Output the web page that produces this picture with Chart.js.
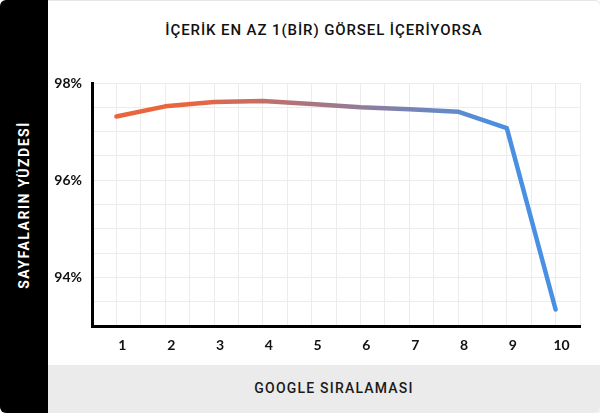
<!DOCTYPE html>
<html lang="tr">
<head>
<meta charset="utf-8">
<script src="https://cdn.jsdelivr.net/npm/chart.js@4.4.1/dist/chart.umd.min.js"></script>
<style>
    html, body { margin: 0; padding: 0; background: #fff; }
    #frame { position: relative; width: 600px; height: 413px; overflow: hidden; font-family: Roboto, sans-serif; }
    #panel { position: absolute; left: 40px; top: 0; width: 559px; height: 412px; border: 1px solid #e6e6e6; border-radius: 0 6px 6px 0; }
    #side { position: absolute; left: 0; top: 0; width: 48px; height: 413px; background: #000; border-radius: 6px 0 0 6px; }
    #sideLabel { position: absolute; left: 24px; top: 205px; transform: translate(-50%, -50%) rotate(-90deg); white-space: nowrap;
        color: #fff; font: 700 14px Roboto, sans-serif; letter-spacing: 1.5px; }
    #title { position: absolute; left: 48px; width: 552px; top: 21px; text-align: center; white-space: nowrap;
        color: #111; font: 500 15px Roboto, sans-serif; letter-spacing: 0.9px; }
    #bottom { position: absolute; left: 48px; top: 365px; width: 552px; height: 48px; background: #ebebeb; border-radius: 0 0 6px 0; }
    #bottomLabel { position: absolute; left: 10px; width: 100%; top: 15px; text-align: center; color: #1a1a1a;
        font: 500 14px Roboto, sans-serif; letter-spacing: 1.2px; }
    #wrap { position: absolute; left: 48px; top: 0; width: 552px; height: 365px; }
</style>
</head>
<body>
<div id="frame">
    <div id="panel"></div>
    <div id="bottom"><div id="bottomLabel">GOOGLE SIRALAMASI</div></div>
    <div id="side"><div id="sideLabel">SAYFALARIN YÜZDESİ</div></div>
    <div id="title">İÇERİK EN AZ 1(BİR) GÖRSEL İÇERİYORSA</div>
    <div id="wrap"><canvas id="chart"></canvas></div>
</div>
<script>
// data
const ranks = [1, 2, 3, 4, 5, 6, 7, 8, 9, 10];
const shares = [97.31, 97.52, 97.61, 97.63, 97.57, 97.50, 97.46, 97.41, 97.07, 93.34];
const yLabels = [94, 96, 98];

const tickFont = { family: 'Lato, sans-serif', size: 14, weight: '700' };

// horizontal orange -> blue gradient along the line
function lineGradient(context) {
    const chart = context.chart;
    if (!chart.chartArea) return '#e9643e';
    const xs = chart.scales.x;
    const g = chart.ctx.createLinearGradient(xs.getPixelForValue(2.5), 0, xs.getPixelForValue(8.8), 0);
    g.addColorStop(0, '#ea643e');
    g.addColorStop(1, '#4a90e2');
    return g;
}

new Chart(document.getElementById('chart'), {
    type: 'line',
    data: {
        datasets: [{
            data: ranks.map((r, i) => ({ x: r, y: shares[i] })),
            borderColor: lineGradient,
            borderWidth: 4.5,
            borderCapStyle: 'round',
            borderJoinStyle: 'round',
            tension: 0,
            pointRadius: 0,
            fill: false
        }]
    },
    options: {
        responsive: true,
        maintainAspectRatio: false,
        animation: false,
        layout: { padding: { top: 83, right: 20, left: 0, bottom: 0 } },
        plugins: { legend: { display: false }, tooltip: { enabled: false } },
        scales: {
            x: {
                type: 'linear',
                min: 0.5,
                max: 10.5,
                afterFit: s => { s.height = 39; },
                grid: { color: '#ececec', lineWidth: 1, drawTicks: false },
                border: { color: '#000', width: 3 },
                ticks: {
                    stepSize: 0.5,
                    autoSkip: false,
                    maxRotation: 0,
                    padding: 11,
                    labelOffset: 6,
                    color: '#111',
                    font: tickFont,
                    callback: v => (ranks.includes(v) ? String(v) : '')
                }
            },
            y: {
                min: 93,
                max: 98,
                afterFit: s => { s.width = 44; },
                grid: { color: '#ececec', lineWidth: 1, drawTicks: false },
                border: { color: '#000', width: 3 },
                ticks: {
                    stepSize: 0.5,
                    autoSkip: false,
                    padding: 10,
                    color: '#111',
                    font: tickFont,
                    callback: v => (yLabels.includes(v) ? v + '%' : '')
                }
            }
        }
    }
});
</script>
</body>
</html>
